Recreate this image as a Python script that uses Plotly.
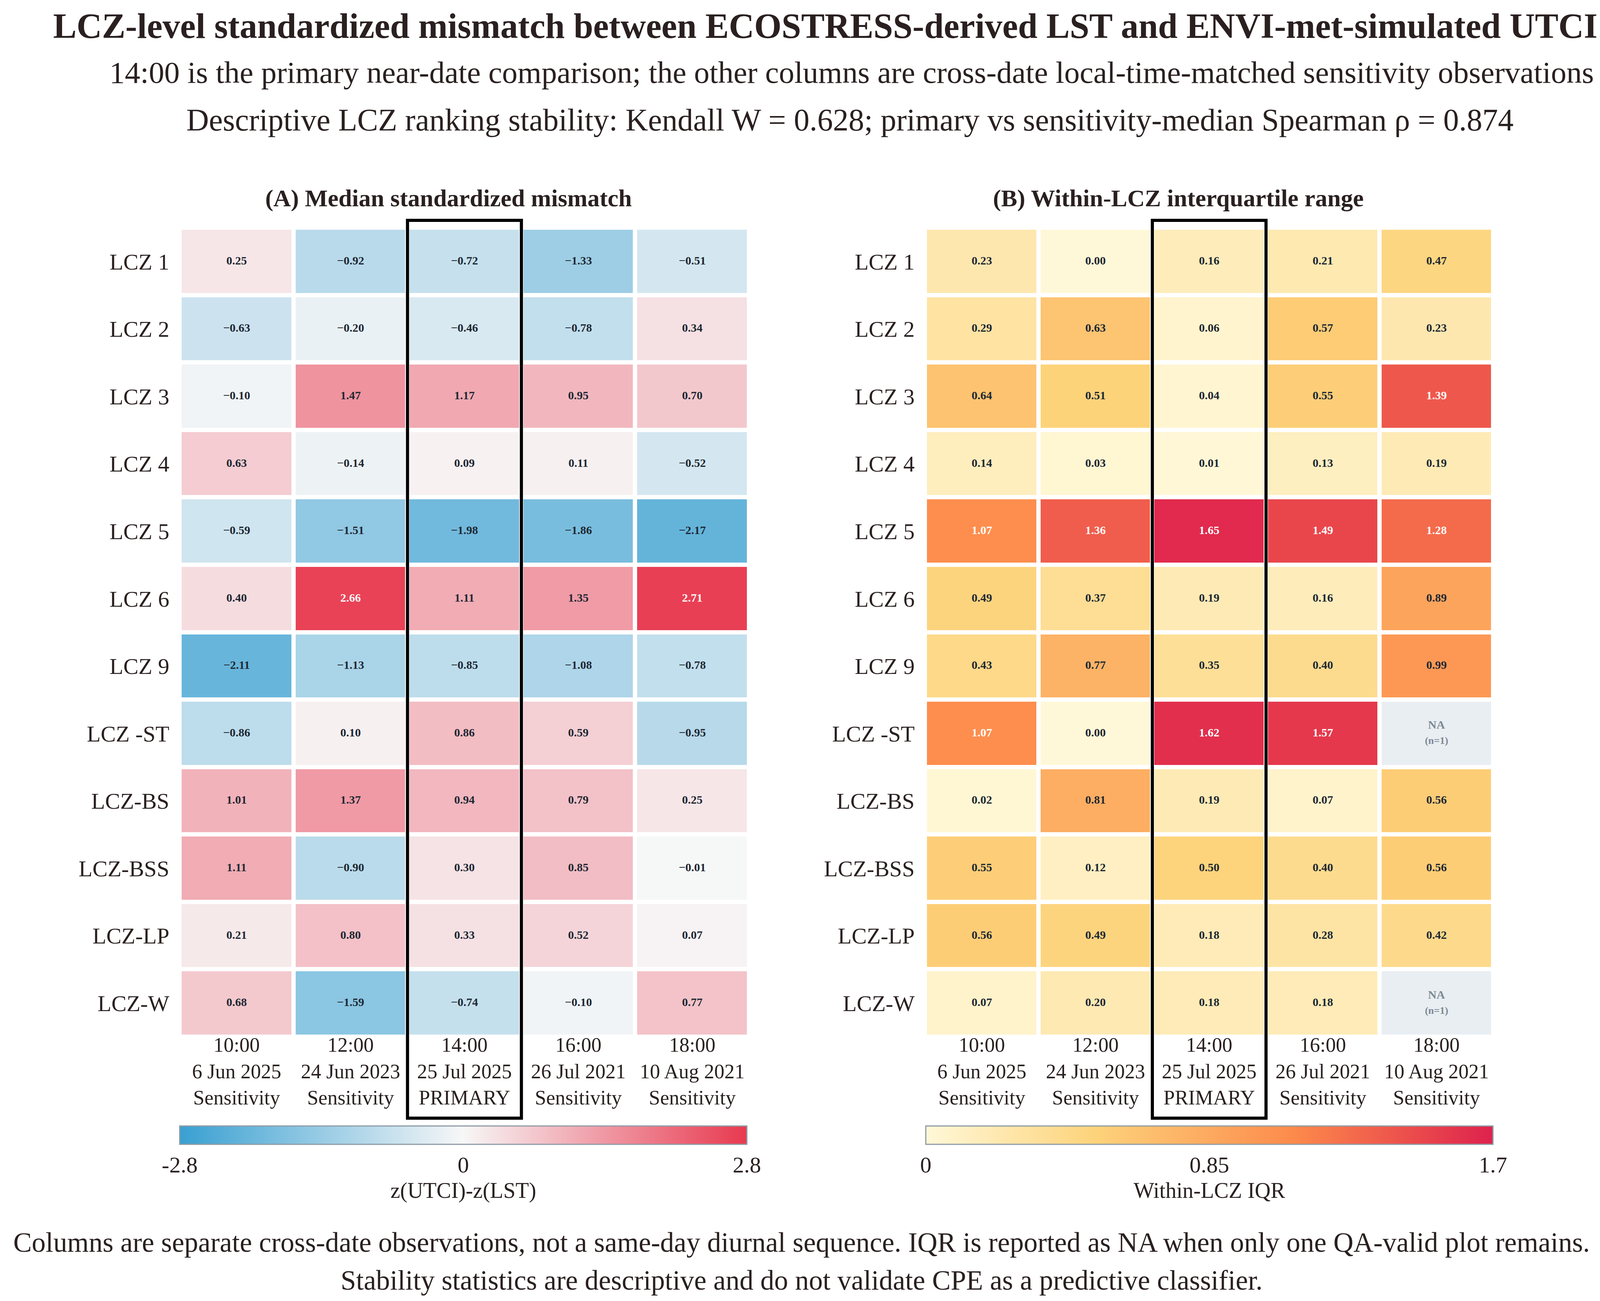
#%%

import plotly.graph_objects as go

lczs = ["LCZ 1", "LCZ 2", "LCZ 3", "LCZ 4", "LCZ 5", "LCZ 6", "LCZ 9",
        "LCZ -ST", "LCZ-BS", "LCZ-BSS", "LCZ-LP", "LCZ-W"]
times = ["10:00", "12:00", "14:00", "16:00", "18:00"]
dates = ["6 Jun 2025", "24 Jun 2023", "25 Jul 2025", "26 Jul 2021", "10 Aug 2021"]
roles = ["Sensitivity", "Sensitivity", "PRIMARY", "Sensitivity", "Sensitivity"]
primary = "14:00"

median_mismatch = [
    [0.25, -0.92, -0.72, -1.33, -0.51],
    [-0.63, -0.20, -0.46, -0.78, 0.34],
    [-0.10, 1.47, 1.17, 0.95, 0.70],
    [0.63, -0.14, 0.09, 0.11, -0.52],
    [-0.59, -1.51, -1.98, -1.86, -2.17],
    [0.40, 2.66, 1.11, 1.35, 2.71],
    [-2.11, -1.13, -0.85, -1.08, -0.78],
    [-0.86, 0.10, 0.86, 0.59, -0.95],
    [1.01, 1.37, 0.94, 0.79, 0.25],
    [1.11, -0.90, 0.30, 0.85, -0.01],
    [0.21, 0.80, 0.33, 0.52, 0.07],
    [0.68, -1.59, -0.74, -0.10, 0.77],
]
iqr = [
    [0.23, 0.00, 0.16, 0.21, 0.47],
    [0.29, 0.63, 0.06, 0.57, 0.23],
    [0.64, 0.51, 0.04, 0.55, 1.39],
    [0.14, 0.03, 0.01, 0.13, 0.19],
    [1.07, 1.36, 1.65, 1.49, 1.28],
    [0.49, 0.37, 0.19, 0.16, 0.89],
    [0.43, 0.77, 0.35, 0.40, 0.99],
    [1.07, 0.00, 1.62, 1.57, None],
    [0.02, 0.81, 0.19, 0.07, 0.56],
    [0.55, 0.12, 0.50, 0.40, 0.56],
    [0.56, 0.49, 0.18, 0.28, 0.42],
    [0.07, 0.20, 0.18, 0.18, None],
]

z_ticks = [-2.8, 0, 2.8]
iqr_ticks = [0, 0.85, 1.7]

title = "LCZ-level standardized mismatch between ECOSTRESS-derived LST and ENVI-met-simulated UTCI"
sub1 = "14:00 is the primary near-date comparison; the other columns are cross-date local-time-matched sensitivity observations"
sub2 = "Descriptive LCZ ranking stability: Kendall W = 0.628; primary vs sensitivity-median Spearman ρ = 0.874"
foot1 = "Columns are separate cross-date observations, not a same-day diurnal sequence. IQR is reported as NA when only one QA-valid plot remains."
foot2 = "Stability statistics are descriptive and do not validate CPE as a predictive classifier."

#%%

W, H = 4130, 3330
serif = "Liberation Serif"
ink = "#2a2020"
cell_ink = "#1e2833"

cols = ["%s<br>%s<br>%s" % c for c in zip(times, dates, roles)]

div_scale = [[0, "#39a0d2"], [0.5, "#f7f7f7"], [1, "#e8394f"]]
seq_scale = [[0, "#fff8d8"], [0.3, "#fdd37a"], [0.65, "#fd8a4b"], [1, "#de214d"]]


def fmt(v):
    return ("%.2f" % v).replace("-", "\u2212")


def cell_text(data, white_if):
    xs, ys, txt, colr = [], [], [], []
    for i, row in enumerate(data):
        for j, v in enumerate(row):
            xs.append(cols[j])
            ys.append(lczs[i])
            if v is None:
                txt.append("<b>NA</b><br><b><span style='font-size:26px'>(n=1)</span></b>")
                colr.append("#7d8894")
            else:
                txt.append("<b>%s</b>" % fmt(v))
                colr.append("white" if white_if(v) else cell_ink)
    return xs, ys, txt, colr


def cbar(x, ticks, labels, name):
    return dict(
        orientation="h", x=x / W, xanchor="center", y=1 - 2874 / H, yanchor="top",
        len=1452 / W, lenmode="fraction", thickness=47, xpad=0, ypad=0,
        outlinecolor="#8e9ba6", outlinewidth=3,
        tickvals=ticks, ticktext=labels, ticks="",
        tickfont=dict(family=serif, size=58, color=ink),
        title=dict(text=name, side="bottom", font=dict(family=serif, size=56, color=ink)),
    )


fig = go.Figure()

fig.add_trace(go.Heatmap(
    z=median_mismatch, x=cols, y=lczs, xaxis="x", yaxis="y",
    colorscale=div_scale, zmin=-2.8, zmax=2.8, xgap=11, ygap=11, hoverinfo="skip",
    colorbar=cbar(1178, z_ticks, ["-2.8", "0", "2.8"], "z(UTCI)-z(LST)"),
))
fig.add_trace(go.Heatmap(
    z=iqr, x=cols, y=lczs, xaxis="x2", yaxis="y2",
    colorscale=seq_scale, zmin=0, zmax=1.7, xgap=11, ygap=11, hoverinfo="skip",
    colorbar=cbar(3088, iqr_ticks, ["0", "0.85", "1.7"], "Within-LCZ IQR"),
))
# grey bricks where IQR is undefined
na_mask = [[1 if v is None else None for v in row] for row in iqr]
fig.add_trace(go.Heatmap(
    z=na_mask, x=cols, y=lczs, xaxis="x2", yaxis="y2", showscale=False,
    colorscale=[[0, "#e9eef2"], [1, "#e9eef2"]], xgap=11, ygap=11, hoverinfo="skip",
))

for data, ax, white_if in [
    (median_mismatch, ("x", "y"), lambda v: abs(v) > 2.4),
    (iqr, ("x2", "y2"), lambda v: v >= 1.0),
]:
    xs, ys, txt, colr = cell_text(data, white_if)
    fig.add_trace(go.Scatter(
        x=xs, y=ys, text=txt, mode="text", xaxis=ax[0], yaxis=ax[1],
        textfont=dict(family=serif, size=30, color=colr), hoverinfo="skip", showlegend=False,
    ))

xa = dict(type="category", side="bottom", showgrid=False, zeroline=False, showline=False,
          range=[-0.5, len(cols) - 0.5], ticks="", ticklabelstandoff=-15,
          tickfont=dict(family=serif, size=52, color=ink))
ya = dict(type="category", range=[len(lczs) - 0.5, -0.5], showgrid=False, zeroline=False,
          showline=False, ticks="outside", ticklen=14, tickcolor="rgba(0,0,0,0)",
          tickfont=dict(family=serif, size=58, color=ink))

fig.update_layout(
    width=W, height=H,
    margin=dict(l=0, r=0, t=0, b=0),
    paper_bgcolor="white", plot_bgcolor="white",
    showlegend=False,
    xaxis=dict(xa, domain=[452 / W, 1910 / W], anchor="y"),
    yaxis=dict(ya, domain=[1 - 2646 / H, 1 - 575 / H], anchor="x"),
    xaxis2=dict(xa, domain=[2360 / W, 3815 / W], anchor="y2"),
    yaxis2=dict(ya, domain=[1 - 2646 / H, 1 - 575 / H], anchor="x2"),
)

# frame around the primary column in both panels
k = times.index(primary)
for xr in ["x", "x2"]:
    fig.add_shape(type="rect", xref=xr, yref="paper", x0=k - 0.5, x1=k + 0.5,
                  y0=1 - 2854 / H, y1=1 - 556 / H, line=dict(color="black", width=8))

annos = [
    (title, 2105, 59, 90, True),
    (sub1, 2172, 177, 79, False),
    (sub2, 2168, 299, 80, False),
    ("(A) Median standardized mismatch", 1140, 500, 62, True),
    ("(B) Within-LCZ interquartile range", 3008, 500, 62, True),
    (foot1, 2044, 3172, 71, False),
    (foot2, 2044, 3269, 71, False),
]
for text, x, y, size, bold in annos:
    fig.add_annotation(
        text="<b>%s</b>" % text if bold else text,
        x=x / W, y=1 - y / H, xref="paper", yref="paper",
        xanchor="center", yanchor="middle", showarrow=False,
        font=dict(family=serif, size=size, color=ink),
    )

fig.write_html("out.html")
# %%
